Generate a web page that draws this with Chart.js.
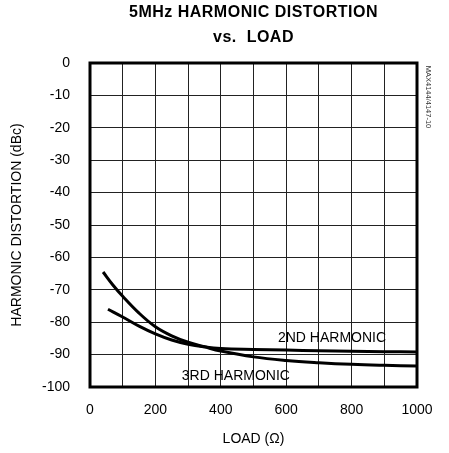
<!DOCTYPE html>
<html>
<head>
<meta charset="utf-8">
<script src="https://cdn.jsdelivr.net/npm/chart.js@4"></script>
<style>
  html, body { margin: 0; padding: 0; background: #fff; }
  #wrap { width: 449px; height: 453px; }
</style>
</head>
<body>
<div id="wrap"><canvas id="hdChart" width="449" height="453"></canvas></div>
<script>
// 5MHz harmonic distortion vs load
const titleLines = ['5MHz HARMONIC DISTORTION', 'vs.  LOAD'];
const partNote = 'MAX4144/4147-10';

const loads2 = [55, 100, 150, 200, 250, 300, 350, 400, 500, 600, 700, 800, 900, 1000];
const secondHarmonic = [-76, -78.4, -81.2, -83.6, -85.5, -86.8, -87.6, -88.1, -88.4, -88.6, -88.8, -89, -89.1, -89.2];

const loads3 = [40, 70, 100, 150, 200, 250, 300, 350, 400, 500, 600, 700, 800, 900, 1000];
const thirdHarmonic = [-64.5, -68.5, -72, -77.2, -81.4, -84.2, -86.2, -87.6, -88.9, -90.7, -91.8, -92.5, -93, -93.3, -93.5];

const xTicks = [0, 200, 400, 600, 800, 1000];
const yTicks = [0, -10, -20, -30, -40, -50, -60, -70, -80, -90, -100];

// curve labels, in data units
const curveLabels = [
    { text: '2ND HARMONIC', x: 740, y: -84.8 },
    { text: '3RD HARMONIC', x: 446, y: -96.6 }
];

const FONT = '"Liberation Sans", Arial, Helvetica, sans-serif';

const toPoints = (xs, ys) => xs.map((x, i) => ({ x, y: ys[i] }));

const extras = {
    id: 'extras',
    afterDraw(chart) {
        const { ctx, chartArea: a, scales } = chart;
        ctx.save();
        // thick frame
        ctx.strokeStyle = '#000';
        ctx.lineWidth = 3;
        ctx.strokeRect(a.left, a.top, a.right - a.left, a.bottom - a.top);

        // title
        const cx = (a.left + a.right) / 2;
        ctx.fillStyle = '#000';
        ctx.textAlign = 'center';
        ctx.textBaseline = 'middle';
        ctx.font = 'bold 16px ' + FONT;
        ctx.letterSpacing = '0.5px';
        ctx.fillText(titleLines[0], cx, 13);
        ctx.fillText(titleLines[1], cx, 38);
        ctx.letterSpacing = '0px';

        // curve labels
        ctx.font = '14px ' + FONT;
        curveLabels.forEach(l => {
            ctx.fillText(l.text, scales.x.getPixelForValue(l.x), scales.y.getPixelForValue(l.y));
        });

        // part note on the right
        ctx.font = '7.5px ' + FONT;
        ctx.fillStyle = '#333';
        ctx.translate(428, 97);
        ctx.rotate(Math.PI / 2);
        ctx.fillText(partNote, 0, 0);
        ctx.restore();
    }
};

new Chart(document.getElementById('hdChart'), {
    type: 'scatter',
    data: {
        datasets: [
            { label: '2ND HARMONIC', data: toPoints(loads2, secondHarmonic) },
            { label: '3RD HARMONIC', data: toPoints(loads3, thirdHarmonic) }
        ].map(d => Object.assign(d, {
            showLine: true,
            borderColor: '#000',
            backgroundColor: '#000',
            borderWidth: 3,
            pointRadius: 0,
            tension: 0.4
        }))
    },
    options: {
        responsive: false,
        animation: false,
        layout: { padding: { left: 0, top: 63, right: 32, bottom: 0 } },
        plugins: { legend: { display: false }, tooltip: { enabled: false }, title: { display: false } },
        scales: {
            x: {
                type: 'linear',
                min: 0, max: 1000,
                afterFit: s => { s.height = 66; },
                afterBuildTicks: s => { s.ticks = Array.from({ length: 11 }, (_, i) => ({ value: i * 100 })); },
                ticks: {
                    autoSkip: false,
                    maxRotation: 0,
                    padding: 15,
                    color: '#000',
                    font: { family: FONT, size: 14 },
                    callback: v => xTicks.includes(v) ? String(v) : ''
                },
                grid: { color: '#222', lineWidth: 1, drawTicks: false },
                border: { display: false },
                title: {
                    display: true,
                    text: 'LOAD (Ω)',
                    color: '#000',
                    font: { family: FONT, size: 14 },
                    padding: { top: 0, bottom: 5 }
                }
            },
            y: {
                type: 'linear',
                min: -100, max: 0,
                afterFit: s => { s.width = 90; },
                afterBuildTicks: s => { s.ticks = yTicks.map(v => ({ value: v })); },
                ticks: {
                    autoSkip: false,
                    padding: 20,
                    color: '#000',
                    font: { family: FONT, size: 14 }
                },
                grid: { color: '#222', lineWidth: 1, drawTicks: false },
                border: { display: false },
                title: {
                    display: true,
                    text: 'HARMONIC DISTORTION (dBc)',
                    color: '#000',
                    font: { family: FONT, size: 14 },
                    padding: { top: 9, bottom: 0 }
                }
            }
        }
    },
    plugins: [extras]
});
</script>
</body>
</html>
